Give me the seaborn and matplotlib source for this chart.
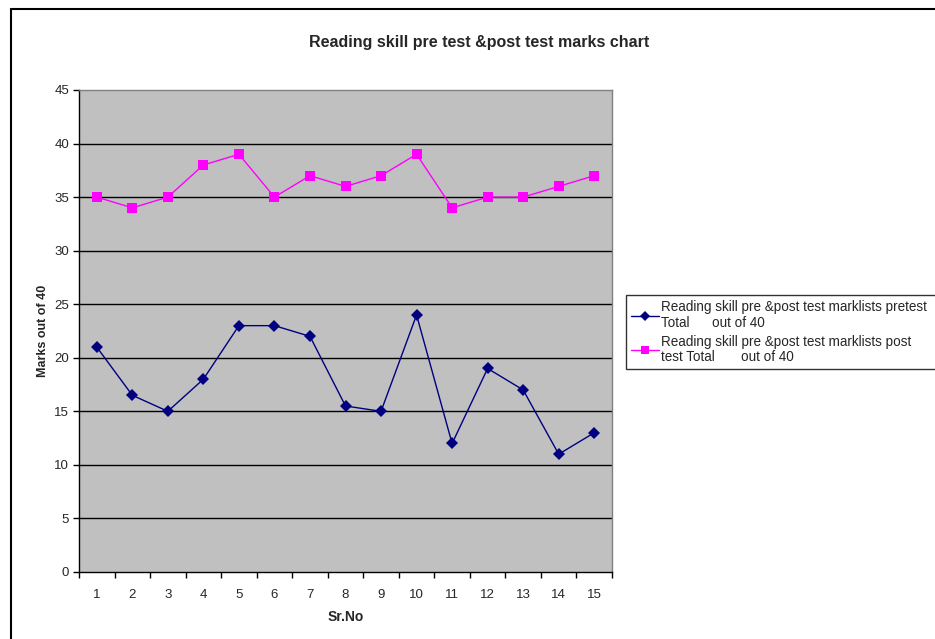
import matplotlib
matplotlib.use("Agg")
import matplotlib.pyplot as plt
from matplotlib.lines import Line2D
import seaborn as sns
import pandas as pd
import numpy as np

sr_no = list(range(1, 16))
pretest = [21, 16.5, 15, 18, 23, 23, 22, 15.5, 15, 24, 12, 19, 17, 11, 13]
posttest = [35, 34, 35, 38, 39, 35, 37, 36, 37, 39, 34, 35, 35, 36, 37]
pre_label = "Reading skill pre &post test marklists pretest\nTotal      out of 40"
post_label = "Reading skill pre &post test marklists post\ntest Total       out of 40"

df = pd.DataFrame({"Sr.No": sr_no * 2,
                   "Marks": pretest + posttest,
                   "Series": [pre_label] * 15 + [post_label] * 15})

sns.set_style("white")
plt.rcParams['font.family'] = ['Liberation Sans', 'DejaVu Sans']

fig = plt.figure(figsize=(9.35, 6.39), dpi=100)
ax = fig.add_axes([79/935, 1 - 572/639, (612-79)/935, (572-90)/639])
ax.set_facecolor("#C0C0C0")

for y in range(5, 45, 5):
    ax.axhline(y, color="black", lw=1.0, zorder=1)

palette = {pre_label: "#000080", post_label: "#FF00FF"}
markers = {pre_label: "D", post_label: "s"}
sns.lineplot(data=df, x="Sr.No", y="Marks", hue="Series", style="Series",
             palette=palette, markers=markers, dashes=False, markersize=6.5,
             markeredgewidth=0, lw=1.0, ax=ax, legend=False, zorder=3)

ax.set_xlim(0.5, 15.5)
ax.set_ylim(0, 45)
ax.set_yticks(range(0, 46, 5))
ax.set_yticklabels([str(v) for v in range(0, 46, 5)], fontsize=9.5)
ax.set_xticks(sr_no)
ax.set_xticklabels([str(v) for v in sr_no], fontsize=9.5)
ax.set_xticks(np.arange(0.5, 15.6, 1), minor=True)
ax.tick_params(axis="x", which="major", bottom=True, length=0, pad=12)
ax.tick_params(axis="x", which="minor", bottom=True, length=4, width=1,
               color="black", direction="out")
ax.tick_params(axis="y", which="major", left=True, length=4, width=1,
               color="black", direction="out", pad=3)

for side in ["top", "right"]:
    ax.spines[side].set_color("#808080")
    ax.spines[side].set_linewidth(1)
for side in ["left", "bottom"]:
    ax.spines[side].set_color("black")
    ax.spines[side].set_linewidth(1)

ax.set_xlabel("Sr.No", fontsize=10, fontweight="bold", labelpad=7)
ax.set_ylabel("Marks out of 40", fontsize=9, fontweight="bold", labelpad=4)

fig.text(479/935, 1 - 43/639, "Reading skill pre test &post test marks chart",
         ha="center", va="center", fontsize=11.5, fontweight="bold")

handles = [Line2D([], [], color="#000080", marker="D", markersize=5, markeredgewidth=0, lw=1),
           Line2D([], [], color="#FF00FF", marker="s", markersize=6, markeredgewidth=0, lw=1)]
leg = fig.legend(handles, [pre_label, post_label], loc="upper left",
                 bbox_to_anchor=(626/935, 1 - 370/639, (945-626)/935, 75/639),
                 mode="expand", fontsize=9.75,
                 frameon=True, fancybox=False, edgecolor="black",
                 handlelength=2.0, handletextpad=0.2, borderpad=0.4,
                 labelspacing=0.4, borderaxespad=0)
leg.get_frame().set_linewidth(1)
for t in leg.get_texts():
    t.set_linespacing(1.1)

# outer chart border
fig.add_artist(Line2D([11/935, 11/935], [0, 1 - 9/639], color="black", lw=1.5,
                      transform=fig.transFigure))
fig.add_artist(Line2D([11/935, 1], [1 - 9/639, 1 - 9/639], color="black", lw=1.5,
                      transform=fig.transFigure))

fig.savefig("out.png", dpi=100)
